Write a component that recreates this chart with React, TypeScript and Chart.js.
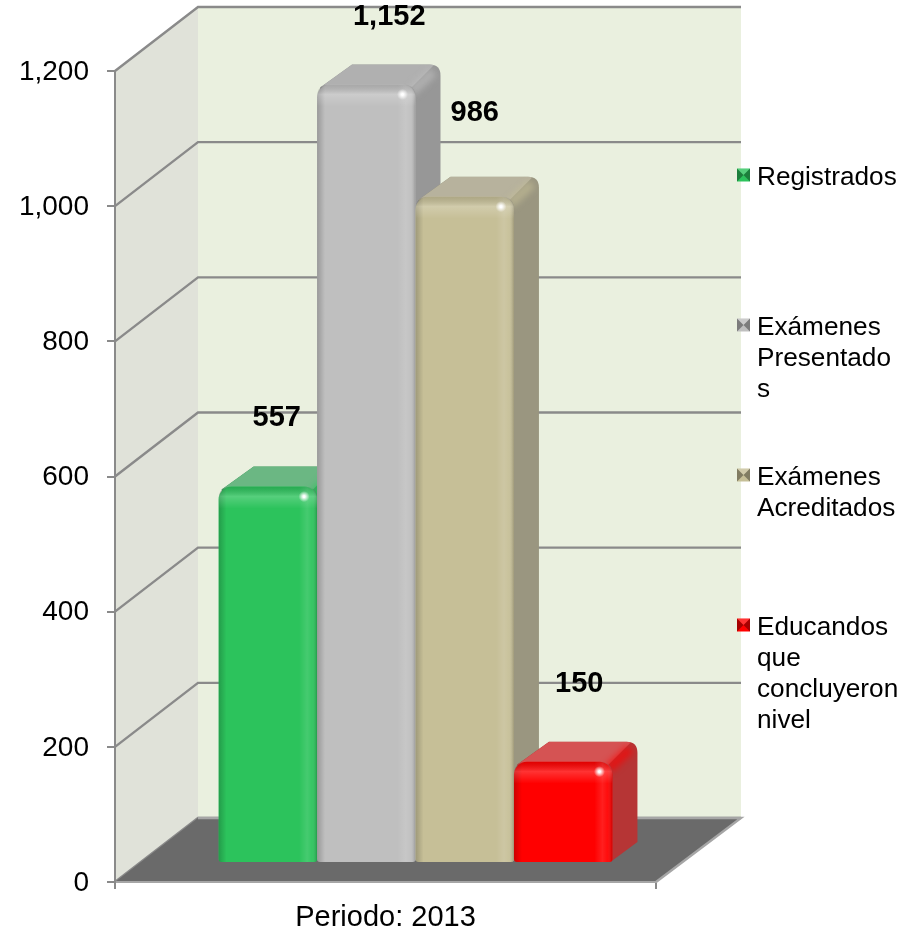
import React, { useEffect, useRef } from "react";
import { Chart, registerables } from "chart.js";

Chart.register(...registerables);

const category = ["Periodo: 2013"];
const seriesNames = ["Registrados", "Exámenes Presentados", "Exámenes Acreditados", "Educandos que concluyeron nivel"];
const registrados = [557];
const presentados = [1152];
const acreditados = [986];
const concluyeron = [150];
const yTicks = [0, 200, 400, 600, 800, 1000, 1200];
const legendLines = [["Registrados"], ["Exámenes", "Presentado", "s"], ["Exámenes", "Acreditados"], ["Educandos", "que", "concluyeron", "nivel"]];

const FONT = '"Liberation Sans", Arial, sans-serif';
const faceColors = ["#2CC35C", "#BFBFBF", "#C6BF97", "#FF0000"];
const topColors = ["#6BB783", "#B0B0B0", "#B7B29D", "#D55353"];
const sideColors = ["#3C9A5C", "#979797", "#9A9680", "#B63535"];
const labelNudge = [[9, -70], [23, -68], [10, -85], [16, -79]];
const legendY = [175, 325, 475, 625];
const GRID = "#8A8A8A";

function rr(ctx: CanvasRenderingContext2D, l: number, t: number, r: number, b: number, rt: number, rb: number) {
  ctx.beginPath();
  ctx.moveTo(l + rt, t);
  ctx.lineTo(r - rt, t);
  ctx.quadraticCurveTo(r, t, r, t + rt);
  ctx.lineTo(r, b - rb);
  ctx.quadraticCurveTo(r, b, r - rb, b);
  ctx.lineTo(l + rb, b);
  ctx.quadraticCurveTo(l, b, l, b - rb);
  ctx.lineTo(l, t + rt);
  ctx.quadraticCurveTo(l, t, l + rt, t);
  ctx.closePath();
}

const scene = {
  id: "scene",
  beforeDraw(chart: any) {
    const { ctx, chartArea: a, scales } = chart;
    const y = scales.y;
    const bl = 83, br = 85, d = 64;
    const y0 = y.getPixelForValue(0), y1 = y.getPixelForValue(1200);
    ctx.save();
    ctx.fillStyle = "#E0E2D9";
    ctx.beginPath();
    ctx.moveTo(a.left, y1); ctx.lineTo(a.left + bl, y1 - d); ctx.lineTo(a.left + bl, y0 - d); ctx.lineTo(a.left, y0);
    ctx.closePath(); ctx.fill();
    ctx.fillStyle = "#EAF0DF";
    ctx.fillRect(a.left + bl, y1 - d, a.right + br - a.left - bl, y0 - y1);
    ctx.strokeStyle = GRID;
    ctx.lineWidth = 2.4;
    for (const v of yTicks) {
      const p = y.getPixelForValue(v);
      ctx.beginPath();
      ctx.moveTo(a.left, p); ctx.lineTo(a.left + bl, p - d); ctx.lineTo(a.right + br, p - d);
      ctx.stroke();
    }
    ctx.fillStyle = "#6A6A6A";
    ctx.beginPath();
    ctx.moveTo(a.left, y0); ctx.lineTo(a.left + bl, y0 - d); ctx.lineTo(a.right + br, y0 - d); ctx.lineTo(a.right, y0);
    ctx.closePath(); ctx.fill();
    ctx.strokeStyle = "#A6A6A6";
    ctx.beginPath();
    ctx.moveTo(a.right, y0); ctx.lineTo(a.right + br, y0 - d); ctx.lineTo(a.left + bl, y0 - d);
    ctx.stroke();
    ctx.restore();
  },
  beforeDatasetsDraw(chart: any) {
    const { ctx } = chart;
    const sx = 30, sy = -19, dx = 25, dy = -20;
    chart.data.datasets.forEach((_: any, i: number) => {
      const meta = chart.getDatasetMeta(i);
      const el = meta.data[0];
      const w = el.width;
      const l = el.x - w / 2, r = el.x + w / 2, t = el.y, b = el.base;
      ctx.save();
      ctx.translate(sx, sy);
      // depth faces
      ctx.beginPath();
      ctx.moveTo(l + 3, t + 3);
      ctx.lineTo(l + dx + 10, t + dy);
      ctx.lineTo(r + dx - 11, t + dy);
      ctx.quadraticCurveTo(r + dx, t + dy, r + dx, t + dy + 11);
      ctx.lineTo(r + dx, b + dy);
      ctx.lineTo(r - 2, b);
      ctx.closePath();
      ctx.fillStyle = sideColors[i];
      ctx.fill();
      ctx.save();
      ctx.clip();
      ctx.beginPath();
      ctx.moveTo(l + 3, t + 3);
      ctx.lineTo(l + dx + 10, t + dy);
      ctx.lineTo(r + dx - 6, t + dy);
      ctx.lineTo(r - 4, t + 3);
      ctx.closePath();
      ctx.fillStyle = topColors[i];
      ctx.fill();
      ctx.filter = "blur(3px)";
      ctx.strokeStyle = faceColors[i];
      ctx.globalAlpha = 0.6;
      ctx.lineWidth = 10;
      ctx.beginPath();
      ctx.moveTo(r - 4, t + 7);
      ctx.lineTo(r + dx - 7, t + dy + 7);
      ctx.stroke();
      ctx.restore();
      // front face through the library
      meta.controller.draw();
      // bevel
      rr(ctx, l, t, r, b, 13, 3);
      ctx.clip();
      let g = ctx.createLinearGradient(l, 0, l + 8, 0);
      g.addColorStop(0, "rgba(0,0,0,0.2)");
      g.addColorStop(1, "rgba(0,0,0,0)");
      ctx.fillStyle = g;
      ctx.fillRect(l, t, 8, b - t);
      g = ctx.createLinearGradient(r - 18, 0, r, 0);
      g.addColorStop(0, "rgba(255,255,255,0)");
      g.addColorStop(0.45, "rgba(255,255,255,0.12)");
      g.addColorStop(0.72, "rgba(255,255,255,0.05)");
      g.addColorStop(1, "rgba(0,0,0,0.2)");
      ctx.fillStyle = g;
      ctx.fillRect(r - 18, t, 18, b - t);
      g = ctx.createLinearGradient(0, t, 0, t + 22);
      g.addColorStop(0, "rgba(0,0,0,0.12)");
      g.addColorStop(0.45, "rgba(255,255,255,0.2)");
      g.addColorStop(1, "rgba(255,255,255,0)");
      ctx.fillStyle = g;
      ctx.fillRect(l, t, w, 22);
      const sp = ctx.createRadialGradient(r - 13, t + 10, 1, r - 13, t + 10, 5.5);
      sp.addColorStop(0, "rgba(255,255,255,1)");
      sp.addColorStop(1, "rgba(255,255,255,0)");
      ctx.fillStyle = sp;
      ctx.fillRect(r - 21, t + 2, 16, 16);
      ctx.restore();
    });
    return false;
  },
  afterDraw(chart: any) {
    const { ctx } = chart;
    ctx.save();
    ctx.fillStyle = "#000";
    ctx.textAlign = "center";
    ctx.textBaseline = "middle";
    ctx.font = `bold 29px ${FONT}`;
    chart.data.datasets.forEach((ds: any, i: number) => {
      const el = chart.getDatasetMeta(i).data[0];
      ctx.fillText(ds.data[0].toLocaleString("en-US"), el.x + 30 + labelNudge[i][0], el.y - 19 + labelNudge[i][1] + 1);
    });
    // legend
    ctx.textAlign = "left";
    ctx.font = `26.2px ${FONT}`;
    legendLines.forEach((lines, i) => {
      const my = legendY[i];
      const x0 = 737, s = 13, y0 = my - s / 2, c = faceColors[i];
      ctx.fillStyle = c;
      ctx.fillRect(x0, y0, s, s);
      const tri = (ax: number, ay: number, bx: number, by: number, col: string) => {
        ctx.fillStyle = col;
        ctx.beginPath();
        ctx.moveTo(ax, ay); ctx.lineTo(bx, by); ctx.lineTo(x0 + s / 2, my);
        ctx.closePath(); ctx.fill();
      };
      tri(x0, y0, x0, y0 + s, "rgba(0,0,0,0.35)");
      tri(x0 + s, y0, x0 + s, y0 + s, "rgba(0,0,0,0.35)");
      tri(x0, y0, x0 + s, y0, "rgba(255,255,255,0.2)");
      lines.forEach((line, k) => {
        ctx.fillStyle = "#000";
        ctx.fillText(line, 757, my + 2.5 + k * 31);
      });
    });
    ctx.restore();
  },
};

export default function App() {
  const ref = useRef<HTMLCanvasElement>(null);
  useEffect(() => {
    document.body.style.margin = "0";
    const series = [registrados, presentados, acreditados, concluyeron];
    const chart = new Chart(ref.current as HTMLCanvasElement, {
      type: "bar",
      data: {
        labels: category,
        datasets: series.map((data, i) => ({
          label: seriesNames[i],
          data,
          backgroundColor: faceColors[i],
          borderSkipped: false,
          borderRadius: { topLeft: 13, topRight: 13, bottomLeft: 3, bottomRight: 3 },
          categoryPercentage: 0.728,
          barPercentage: 1,
        })),
      },
      options: {
        responsive: false,
        animation: false,
        layout: { padding: { top: 71, right: 262, left: 0, bottom: 0 } },
        plugins: { legend: { display: false }, tooltip: { enabled: false } },
        scales: {
          x: {
            afterFit: (s: any) => { s.height = 51; },
            grid: { drawOnChartArea: false, color: GRID, lineWidth: 2, tickLength: 7 },
            border: { color: "#A6A6A6", width: 2 },
            ticks: { color: "#000", font: { family: FONT, size: 29 }, padding: 12 },
          },
          y: {
            min: 0,
            max: 1200,
            afterFit: (s: any) => { s.width = 115; },
            grid: { drawOnChartArea: false, color: GRID, lineWidth: 2, tickLength: 8 },
            border: { color: GRID, width: 2 },
            afterBuildTicks: (s: any) => { s.ticks = yTicks.map((value) => ({ value })); },
            ticks: {
              color: "#000",
              font: { family: FONT, size: 28 },
              padding: 18,
              labelOffset: 1,
              callback: (v: any) => Number(v).toLocaleString("en-US"),
            },
          },
        },
      },
      plugins: [scene],
    } as any);
    return () => chart.destroy();
  }, []);
  return <canvas ref={ref} width={918} height={933} style={{ display: "block" }} />;
}
